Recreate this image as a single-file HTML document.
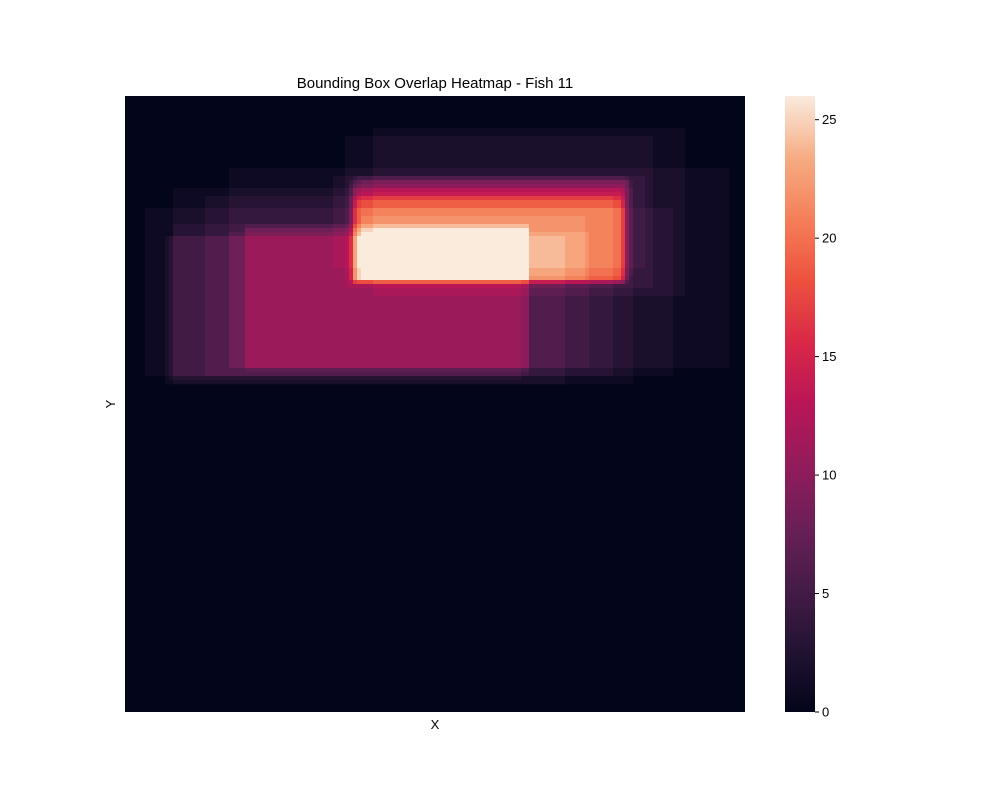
<!DOCTYPE html>
<html><head><meta charset="utf-8"><style>
body{margin:0;background:#fff;}
svg text{font-family:"Liberation Sans",sans-serif;fill:#000;}
</style></head><body>
<svg id="chart" width="1000" height="800" xmlns="http://www.w3.org/2000/svg">
<rect width="1000" height="800" fill="#fff"/>
<text x="435" y="88" font-size="15" text-anchor="middle">Bounding Box Overlap Heatmap - Fish 11</text>
<g id="cells"></g>
<text x="435" y="729" font-size="13" text-anchor="middle">X</text>
<text x="115" y="404" font-size="13" text-anchor="middle" transform="rotate(-90 115 404)">Y</text>
<defs><linearGradient id="cg" x1="0" y1="1" x2="0" y2="0"></linearGradient></defs>
<rect x="785" y="96" width="30" height="616" fill="url(#cg)"/>
<g id="cticks"></g>
</svg>
<script>
// data: boxes [x0,y0,x1,y1] in image coordinates (0..620 x 0..616)
const boxes = [
[250,34,560,199],[220,42,530,194],[105,71,605,272],[20,112,550,279],[48,94,510,287],
[82,101,490,279],[40,139,442,287],[208,79,520,174],
[50,129,405,279],[120,132,405,274],[105,136,465,272],[120,130,405,274],[45,140,395,286],[122,131,405,276],
[225,84,503,186],[227,82,501,188],[230,86,505,184],[223,89,500,190],[228,94,497,187],
[233,82,503,189],[225,99,495,184],[235,86,507,182],[230,104,500,188],[227,92,502,186],
[232,104,497,185],[229,114,499,187],[228,100,500,186],[231,96,502,185],
[240,139,397,182],[235,119,460,184]
];
const cbTicks = [0,5,10,15,20,25];
const vmax = 26;
const domainW = 620, domainH = 616;

const X0=125, Y0=96, PW=620, PH=616;
const xs = v => X0 + v/domainW*PW;
const ys = v => Y0 + v/domainH*PH;
const stops = ["#03051A","#221331","#451C47","#6A1F56","#921C5B","#B91657","#D92847","#ED513E","#F47F58","#F6AC84","#FAEBDD"];
function hex(h){return [1,3,5].map(i=>parseInt(h.substr(i,2),16));}
function cmap(t){t=Math.max(0,Math.min(1,t));const p=t*10,i=Math.min(9,Math.floor(p)),f=p-i;
 const a=hex(stops[i]),b=hex(stops[i+1]);return "rgb("+a.map((c,k)=>Math.round(c+(b[k]-c)*f)).join(",")+")";}
const NS="http://www.w3.org/2000/svg";
const g=document.getElementById("cells");
const step=4;
const bg=document.createElementNS(NS,"rect");


bg.setAttribute("x",X0);bg.setAttribute("y",Y0);bg.setAttribute("width",PW);bg.setAttribute("height",PH);bg.setAttribute("fill",cmap(0));
g.appendChild(bg);
for(let y=0;y<domainH;y+=step){for(let x=0;x<domainW;x+=step){
 const cx=x+step/2, cy=y+step/2; let n=0;
 for(const b of boxes){if(cx>=b[0]&&cx<b[2]&&cy>=b[1]&&cy<b[3])n++;}
 if(n===0)continue;
 const r=document.createElementNS(NS,"rect");
 
 
 r.setAttribute("x",xs(x));r.setAttribute("y",ys(y));
 r.setAttribute("width",xs(x+step)-xs(x)+0.3);r.setAttribute("height",ys(y+step)-ys(y)+0.3);
 r.setAttribute("fill",cmap(n/vmax));g.appendChild(r);
}}
const lg=document.getElementById("cg");
for(let i=0;i<=20;i++){const s=document.createElementNS(NS,"stop");s.setAttribute("offset",i/20);s.setAttribute("stop-color",cmap(i/20));lg.appendChild(s);}
const ct=document.getElementById("cticks");
for(const v of cbTicks){const y=712-v/vmax*616;
 const l=document.createElementNS(NS,"line");
 
 
 l.setAttribute("x1",815);l.setAttribute("x2",819);l.setAttribute("y1",y);l.setAttribute("y2",y);l.setAttribute("stroke","#000");ct.appendChild(l);
 const t=document.createElementNS(NS,"text");
 
 
 t.setAttribute("x",822);t.setAttribute("y",y+4.5);t.setAttribute("font-size","13");t.textContent=v;ct.appendChild(t);}
</script>
</body></html>
